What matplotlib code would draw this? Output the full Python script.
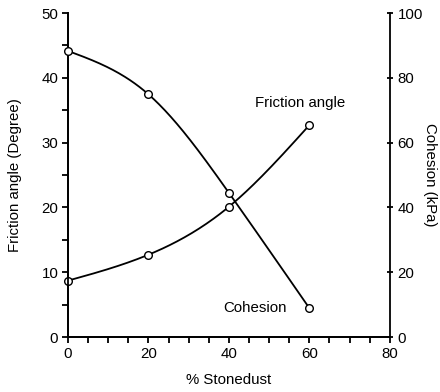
import numpy as np
import matplotlib
matplotlib.use("Agg")
import matplotlib.pyplot as plt
from matplotlib.ticker import MultipleLocator

plt.rcParams['font.family'] = ['Liberation Sans', 'DejaVu Sans']

# data
stonedust = [0, 20, 40, 60]
friction_angle = [8.7, 12.7, 20.1, 32.7]   # degree, left axis
cohesion = [88.3, 74.9, 44.5, 8.9]         # kPa, right axis


# natural cubic spline through the points (no scipy needed)
def natural_spline(x, y, n=200):
    x = np.asarray(x, float)
    y = np.asarray(y, float)
    k = len(x)
    h = np.diff(x)
    A = np.zeros((k, k))
    b = np.zeros(k)
    A[0, 0] = A[-1, -1] = 1
    for i in range(1, k - 1):
        A[i, i - 1] = h[i - 1]
        A[i, i] = 2 * (h[i - 1] + h[i])
        A[i, i + 1] = h[i]
        b[i] = 3 * ((y[i + 1] - y[i]) / h[i] - (y[i] - y[i - 1]) / h[i - 1])
    c = np.linalg.solve(A, b)
    xs = np.linspace(x[0], x[-1], n)
    ys = np.empty_like(xs)
    for j, xv in enumerate(xs):
        i = min(np.searchsorted(x, xv, side='right') - 1, k - 2)
        d = xv - x[i]
        bi = (y[i + 1] - y[i]) / h[i] - h[i] * (2 * c[i] + c[i + 1]) / 3
        di = (c[i + 1] - c[i]) / (3 * h[i])
        ys[j] = y[i] + bi * d + c[i] * d ** 2 + di * d ** 3
    return xs, ys


fs = 10.8

fig = plt.figure(figsize=(4.4, 3.92), dpi=100)
ax = fig.add_axes([0.1545, 0.1403, 0.7315, 0.8265])
ax2 = ax.twinx()

xs, ys = natural_spline(stonedust, friction_angle)
ax.plot(xs, ys, color='black', lw=1.3, zorder=2)
ax.plot(stonedust, friction_angle, 'o', ms=5.5, mfc='white', mec='black', mew=1.0,
        zorder=3, clip_on=False)

xs, ys = natural_spline(stonedust, cohesion)
ax2.plot(xs, ys, color='black', lw=1.3, zorder=2)
ax2.plot(stonedust, cohesion, 'o', ms=5.5, mfc='white', mec='black', mew=1.0,
         zorder=3, clip_on=False)

ax.set_xlim(0, 80)
ax.set_ylim(0, 50)
ax2.set_ylim(0, 100)

ax.xaxis.set_major_locator(MultipleLocator(20))
ax.xaxis.set_minor_locator(MultipleLocator(5))
ax.yaxis.set_major_locator(MultipleLocator(10))
ax.yaxis.set_minor_locator(MultipleLocator(5))
ax2.yaxis.set_major_locator(MultipleLocator(20))

for a in (ax, ax2):
    a.spines['top'].set_visible(False)
    for s in a.spines.values():
        s.set_linewidth(1.3)
ax.spines['right'].set_visible(False)

ax.tick_params(axis='both', which='both', direction='out', length=4, width=1.3,
               labelsize=fs, pad=3)
ax2.tick_params(axis='y', which='both', direction='inout', length=5, width=1.3,
                labelsize=fs, pad=3)

ax.set_xlabel('% Stonedust', fontsize=fs, labelpad=9)
ax.set_ylabel('Friction angle (Degree)', fontsize=fs, labelpad=14)
ax2.set_ylabel('Cohesion (kPa)', fontsize=fs, rotation=-90, labelpad=10)

ax.text(46.5, 36.1, 'Friction angle', fontsize=fs, ha='left', va='center')
ax.text(38.6, 4.5, 'Cohesion', fontsize=fs, ha='left', va='center')

fig.savefig('out.png', dpi=100)
